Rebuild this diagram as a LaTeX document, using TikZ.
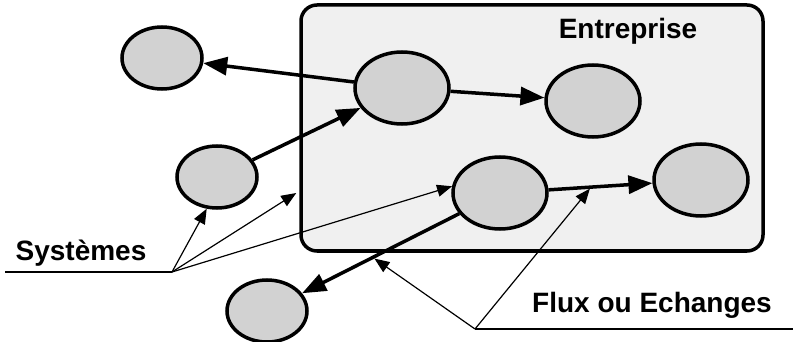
\documentclass[tikz,border=0pt]{standalone}
\usepackage{fontspec}
\setmainfont{Liberation Sans}
\usetikzlibrary{shapes.geometric,arrows.meta}

\begin{document}
\begin{tikzpicture}[x=1pt,y=-1pt,
  sys/.style={ellipse,draw,line width=3.5pt,fill=gray!35,minimum width=80pt,minimum height=62pt,inner sep=0pt},
  big/.style={sys,minimum width=94pt,minimum height=72pt},
  flux/.style={line width=3.5pt,-{Triangle[length=24pt,width=18pt]}},
  fine/.style={line width=1.2pt,-{Triangle[length=15pt,width=12pt]}},
  lbl/.style={font=\fontsize{28}{32}\selectfont\bfseries}]
\useasboundingbox (0,0) rectangle (796,342);
\node[draw,line width=3.5pt,rounded corners=16pt,fill=gray!12,minimum width=462pt,minimum height=246pt] (ent) at (532,128) {};
\node[lbl] (entlbl) at (628,31) {Entreprise};
% systemes
\node[sys] (a) at (162,58) {};
\node[big] (b) at (402,88) {};
\node[big] (c) at (593,101) {};
\node[sys] (d) at (217,177) {};
\node[big] (e) at (500,193) {};
\node[big] (f) at (701,180) {};
\node[sys] (g) at (267,311) {};
% flux
\draw[flux] (b) -- (a);
\draw[flux] (d) -- (b);
\draw[flux] (b) -- (c);
\draw[flux] (e) -- coordinate[pos=0.41] (m2) (f);
\draw[flux] (e) -- coordinate[pos=0.55] (m1) (g);
% legendes
\coordinate (s0) at (5,272);
\coordinate (s1) at (172,272);
\node[lbl] (syslbl) at (81,253) {Systèmes};
\draw[line width=1.2pt] (s0) -- (s1);
\draw[fine] (s1) -- (d.252);
\draw[fine] (s1) -- ([yshift=-65pt,xshift=-3pt]ent.west);
\draw[fine] (s1) -- (e.172);
\coordinate (f0) at (475,329);
\coordinate (f1) at (793,329);
\node[lbl] (fluxlbl) at (652,305) {Flux ou Echanges};
\draw[line width=1.2pt] (f0) -- (f1);
\draw[fine,shorten >=2pt] (f0) -- (m1);
\draw[fine,shorten >=2pt] (f0) -- (m2);
\end{tikzpicture}
\end{document}
